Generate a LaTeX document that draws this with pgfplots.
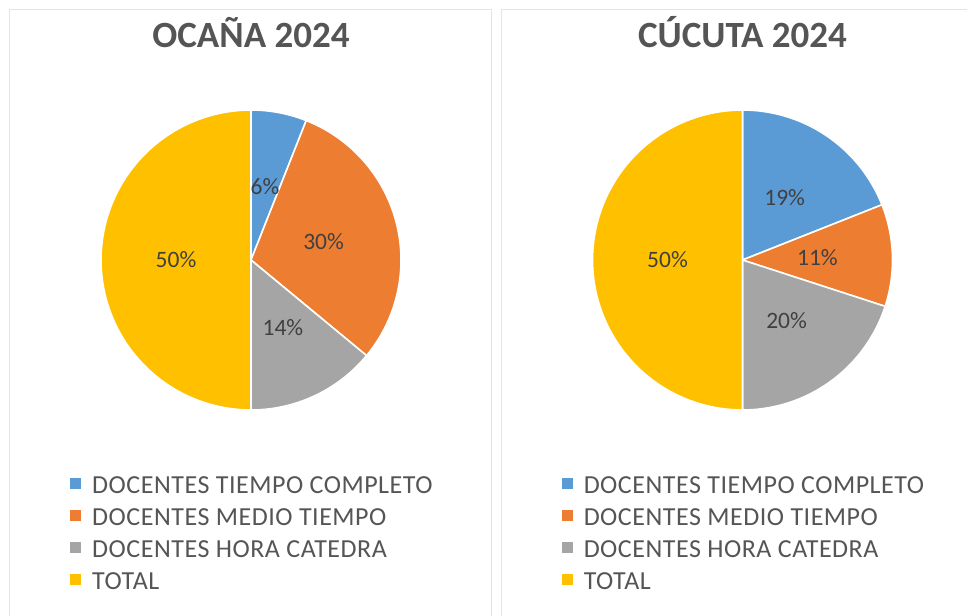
\documentclass[border=0pt]{standalone}
\usepackage{pgfplots}
\pgfplotsset{compat=1.18}
\usepackage{fontspec}
\setmainfont{Carlito}
\definecolor{cblue}{HTML}{5B9BD5}
\definecolor{corange}{HTML}{ED7D31}
\definecolor{cgray}{HTML}{A5A5A5}
\definecolor{cgold}{HTML}{FFC000}
\definecolor{txtgray}{HTML}{555555}
\definecolor{lblgray}{HTML}{404040}
\definecolor{framegray}{HTML}{E4E4E4}

\tikzset{plabel/.style={font=\fontsize{23.5}{27}\selectfont, text=lblgray}}

% #1 cumulative percent before the slice, #2 percent of the slice, #3 colour
\newcommand\pieslice[3]{%
  \pgfmathsetmacro\pa{90-3.6*(#1+#2)}%
  \pgfmathsetmacro\pb{90-3.6*(#1)}%
  \addplot[fill=#3, draw=white, line width=1.6pt, domain=\pa:\pb, samples=90, variable=\t]
    ({cos(\t)},{sin(\t)}) -- (axis cs:0,0) -- cycle;%
}
% #1 cumulative percent, #2 percent, #3 text
\newcommand\pielabel[3]{%
  \pgfmathsetmacro\pmid{90-3.6*(#1+#2/2)}%
  \pgfmathsetmacro\lx{0.5*cos(\pmid)}%
  \pgfmathsetmacro\ly{0.5*sin(\pmid)}%
  \edef\tmp{\noexpand\node[plabel] at (axis cs:\lx,\ly) {#3};}\tmp
}

\pgfplotsset{
  piestyle/.style={
    anchor=center, x=150pt, y=150pt,
    xmin=-1, xmax=1, ymin=-1, ymax=1,
    hide axis, clip=false,
    title style={at={(0.5,1.187)}, anchor=base,
      font=\bfseries\fontsize{37}{42}\selectfont, text=txtgray},
    legend cell align=left,
    legend style={at={(axis cs:-1.205,-1.44)}, anchor=north west,
      draw=none, fill=none, inner sep=0pt, outer sep=0pt, row sep=11pt,
      font=\fontsize{26}{30}\selectfont\addfontfeature{LetterSpace=2}, text=txtgray,
      nodes={inner ysep=0pt, inner xsep=0pt, text height=17pt, text depth=4pt},
      /tikz/every odd column/.append style={column sep=11pt}},
    legend image code/.code={\fill[##1,draw=none] (0pt,-2.5pt) rectangle (11pt,8.5pt);},
  }
}

\begin{document}
\begin{tikzpicture}
\useasboundingbox (0,0) rectangle (967pt,616pt);
\fill[white] (0,0) rectangle (967pt,616pt);
\draw[framegray, line width=1pt] (9.5pt,0) -- (9.5pt,606.5pt) -- (491.5pt,606.5pt) -- (491.5pt,0);
\draw[framegray, line width=1pt] (501.5pt,0) -- (501.5pt,606.5pt) -- (967pt,606.5pt);

% OCAÑA 2024: 6, 30, 14, 50
\begin{axis}[piestyle, at={(251pt,356pt)}, title={OCAÑA 2024}]
  \pieslice{0}{6}{cblue}
  \addlegendentry{DOCENTES TIEMPO COMPLETO}
  \pieslice{6}{30}{corange}
  \addlegendentry{DOCENTES MEDIO TIEMPO}
  \pieslice{36}{14}{cgray}
  \addlegendentry{DOCENTES HORA CATEDRA}
  \pieslice{50}{50}{cgold}
  \addlegendentry{TOTAL}
  \pielabel{0}{6}{6\%}
  \pielabel{6}{30}{30\%}
  \pielabel{36}{14}{14\%}
  \pielabel{50}{50}{50\%}
\end{axis}

% CÚCUTA 2024: 19, 11, 20, 50
\begin{axis}[piestyle, at={(742.5pt,356pt)}, title={CÚCUTA 2024}]
  \pieslice{0}{19}{cblue}
  \addlegendentry{DOCENTES TIEMPO COMPLETO}
  \pieslice{19}{11}{corange}
  \addlegendentry{DOCENTES MEDIO TIEMPO}
  \pieslice{30}{20}{cgray}
  \addlegendentry{DOCENTES HORA CATEDRA}
  \pieslice{50}{50}{cgold}
  \addlegendentry{TOTAL}
  \pielabel{0}{19}{19\%}
  \pielabel{19}{11}{11\%}
  \pielabel{30}{20}{20\%}
  \pielabel{50}{50}{50\%}
\end{axis}
\end{tikzpicture}
\end{document}
